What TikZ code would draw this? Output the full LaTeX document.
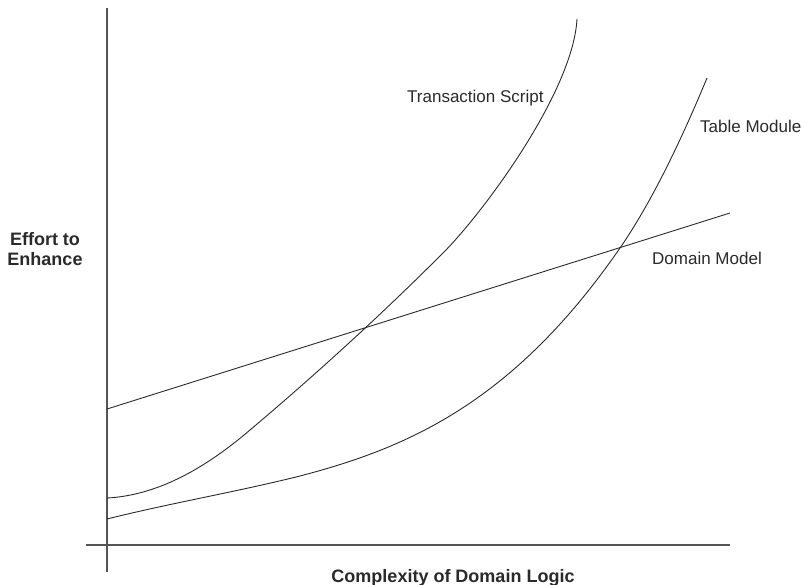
\documentclass[tikz,border=0pt]{standalone}
\usepackage{fontspec}
\setmainfont{Liberation Sans}
\definecolor{ink}{HTML}{2A2A2A}
\definecolor{axisgray}{HTML}{555555}
\tikzset{
  axisline/.style={draw=axisgray, line width=1.3pt},
  curve/.style={draw=ink, line width=0.9pt},
  lbl/.style={text=ink, font=\fontsize{17}{20}\selectfont, inner sep=0pt},
  axlbl/.style={text=ink, font=\fontsize{18}{20}\selectfont\bfseries, inner sep=0pt, align=center}
}
\begin{document}
\begin{tikzpicture}[x=1pt, y=-1pt]
\useasboundingbox (0,0) rectangle (805,585);
% axes
\coordinate (ytop) at (107,8);
\coordinate (ybot) at (107,572);
\coordinate (xl) at (86,545);
\coordinate (xr) at (730,545);
\draw[axisline] (ybot) -- (ytop);
\draw[axisline] (xl) -- (xr);
% domain model line
\coordinate (dm0) at (107,409);
\coordinate (dm1) at (730,213);
\draw[curve] (dm0) -- (dm1);
% transaction script
\coordinate (ts0) at (107,498);
\coordinate (ts1) at (250,430);
\coordinate (ts2) at (443,253);
\coordinate (ts3) at (577,19);
\draw[curve] (ts0) .. controls (155,495.5) and (202,471) .. (ts1)
  .. controls (314,376) and (379,317) .. (ts2)
  .. controls (483,213) and (573,92) .. (ts3);
% table module
\coordinate (tm0) at (107,519);
\coordinate (tm1) at (300,476);
\coordinate (tm2) at (620,248);
\coordinate (tm3) at (707,78);
\draw[curve] (tm0) .. controls (171,503) and (236,492) .. (tm1)
  .. controls (407,448) and (513,403) .. (tm2)
  .. controls (649,206) and (678,148) .. (tm3);
% labels
\node[lbl, anchor=base west] (ts) at (407,103) {Transaction Script};
\node[lbl, anchor=base west] (tm) at (700,133) {Table Module};
\node[lbl, anchor=base west] (dm) at (652,264) {Domain Model};
\node[axlbl, anchor=center] (ylab) at (45,249) {Effort to\\Enhance};
\node[axlbl, anchor=base] (xlab) at (453,582) {Complexity of Domain Logic};
\end{tikzpicture}
\end{document}
